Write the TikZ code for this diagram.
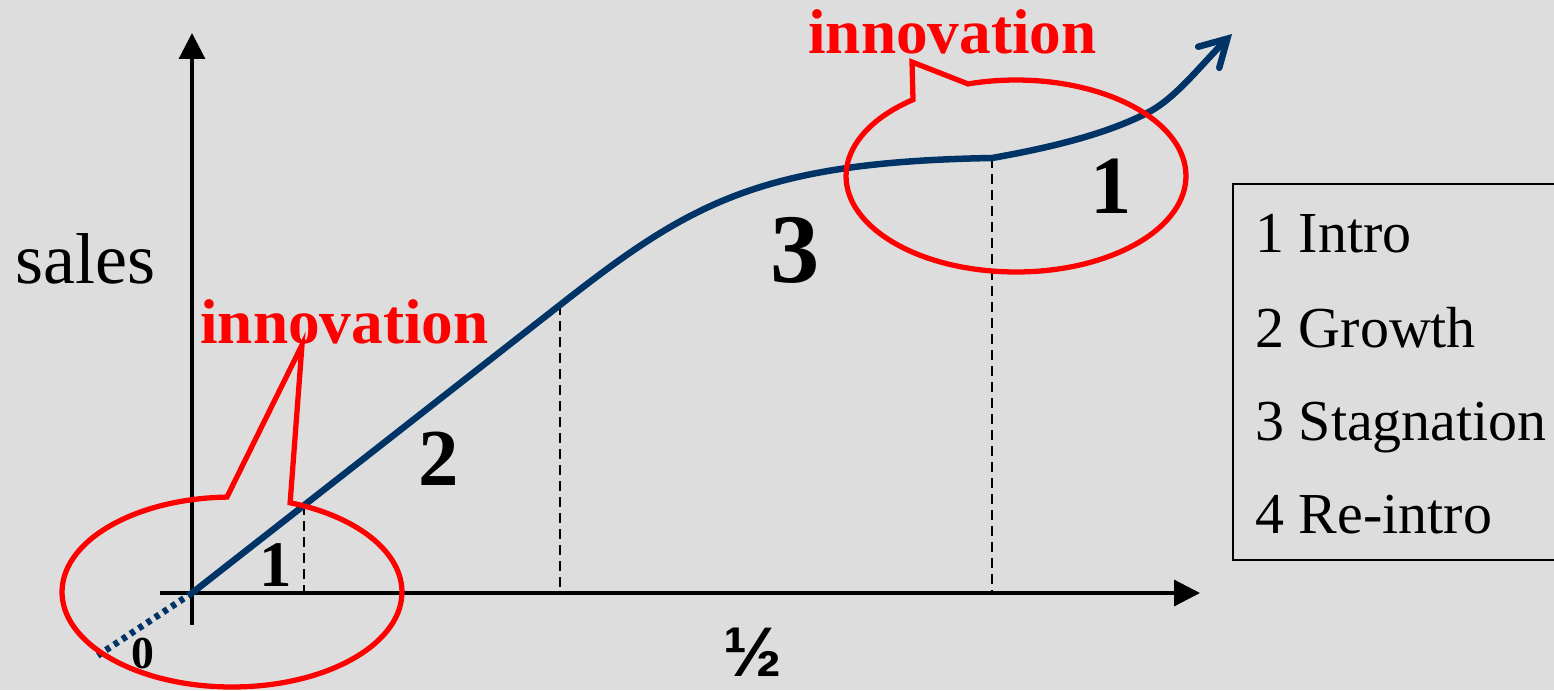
\documentclass[tikz,border=0pt]{standalone}
\usepackage{fontspec}
\setmainfont{Liberation Serif}
\newfontfamily\sansfnt{Liberation Sans}
\usetikzlibrary{arrows.meta}
\definecolor{bgc}{RGB}{221,221,221}
\definecolor{navy}{RGB}{0,51,102}
\definecolor{redc}{RGB}{255,0,0}
\newcommand\setfs[1]{\fontsize{#1}{#1}\selectfont}
\begin{document}
\begin{tikzpicture}[x=0.02cm,y=0.02cm,
  axisline/.style={line width=1.8pt,black,-{Triangle[length=14.7pt,width=14.7pt]}},
  dashline/.style={line width=1.2pt,black,dash pattern=on 5.7pt off 3.4pt},
  curveline/.style={line width=3.7pt,navy},
  redline/.style={line width=3pt,redc,line join=miter},
  lbl/.style={anchor=base,inner sep=0pt,font=\bfseries},
  txt/.style={anchor=base west,inner sep=0pt}]
\clip (0,0) rectangle (1554,-690);
\fill[bgc] (0,0) rectangle (1554,-690);

% legend box
\draw[line width=0.9pt] (1233,-184) rectangle (1600,-560);
\node[txt] (l1) at (1255,-252) {\setfs{33}1 Intro};
\node[txt] (l2) at (1255,-347) {\setfs{33}2 Growth};
\node[txt] (l3) at (1255,-440) {\setfs{33}3 Stagnation};
\node[txt] (l4) at (1255,-533) {\setfs{33}4 Re-intro};

% coordinates
\coordinate (o) at (192,-593);
\coordinate (ybot) at (192,-625);
\coordinate (ytop) at (192,-33);
\coordinate (xleft) at (160,-593);
\coordinate (xright) at (1200,-593);
\coordinate (p1) at (304,-505);
\coordinate (p2) at (560,-305);
\coordinate (p3) at (992,-158);
\coordinate (p4) at (1147,-113);
\coordinate (tip) at (1232,-34);
\coordinate (q1) at (304,-593);
\coordinate (q2) at (560,-593);
\coordinate (q3) at (992,-593);
\coordinate (dotend) at (97,-656);

% dashed verticals
\draw[dashline] (p1) -- (q1);
\draw[dashline] (p2) -- (q2);
\draw[dashline] (p3) -- (q3);

% axes
\draw[axisline] (ybot) -- (ytop);
\draw[axisline] (xleft) -- (xright);

% curve
\draw[curveline,dash pattern=on 2.8pt off 2.8pt] (o) -- (dotend);
\draw[curveline,line join=round] (o) -- (p2) .. controls (690,-203) and (760,-162) .. (p3);
\draw[curveline,line cap=round,-{Straight Barb[length=15pt,width=17pt,line cap=round]}]
  (p3) .. controls (1060,-146) and (1110,-132) .. (p4)
       .. controls (1175,-99) and (1200,-66) .. (tip);

% red callouts
\coordinate (lc) at (232,-592);
\coordinate (rc) at (1016,-176);
\draw[redline] (lc) ++(91.7:3.4cm and 1.9cm)
  arc[start angle=91.7,end angle=430,x radius=3.4cm,y radius=1.9cm] -- (302,-345) -- cycle;
\draw[redline] (rc) ++(127.3:3.4cm and 1.92cm)
  arc[start angle=127.3,end angle=466.4,x radius=3.4cm,y radius=1.92cm] -- (912,-62) -- cycle;

% texts
\node[txt] (sales) at (15,-283) {\setfs{41}sales};
\node[txt,text=redc,font=\bfseries] (inno1) at (200,-343) {\setfs{36}innovation};
\node[txt,text=redc,font=\bfseries] (inno2) at (808,-53) {\setfs{36}innovation};
\node[lbl] (n1a) at (276,-586) {\setfs{37}1};
\node[lbl] (n0) at (143,-668) {\setfs{26}0};
\node[lbl] (n2) at (439,-485) {\setfs{46}2};
\node[lbl] (n3) at (795,-282) {\setfs{56}3};
\node[lbl] (n1b) at (1111,-213) {\setfs{47}1};
\node[anchor=base,inner sep=0pt] (half) at (753,-676) {\sansfnt\bfseries\setfs{40}½};
\end{tikzpicture}
\end{document}
